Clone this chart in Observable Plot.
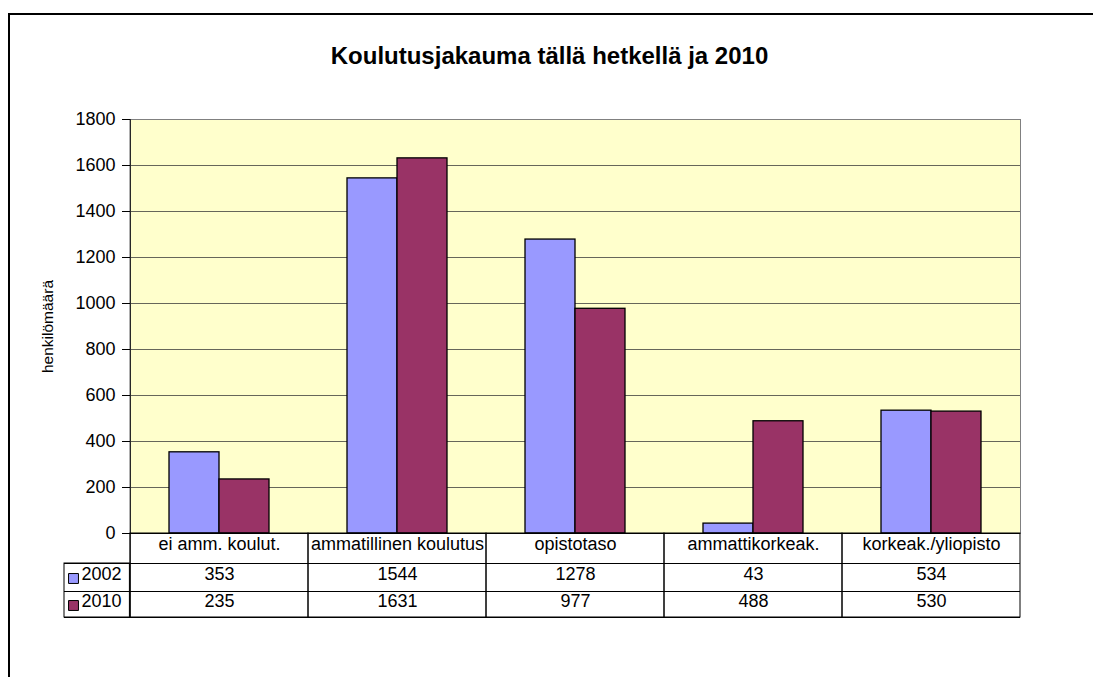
<!DOCTYPE html>
<html>
<head>
<meta charset="utf-8">
<script src="https://cdn.jsdelivr.net/npm/d3@7"></script>
<script src="https://cdn.jsdelivr.net/npm/@observablehq/plot@0.6"></script>
<style>
  html, body { margin: 0; padding: 0; background: #fff; }
  body { font-family: "Liberation Sans", Arial, sans-serif; }
  #frame {
    position: absolute; left: 8px; top: 13px;
    width: 1085px; height: 664px;
    border-left: 2px solid #000; border-top: 2px solid #000;
    overflow: hidden;
  }
  #title {
    width: 1083px; height: 75px; box-sizing: border-box;
    padding-top: 27px; padding-right: 4px;
    text-align: center; font-weight: bold; font-size: 24px; line-height: 27px; color: #000;
  }
  #chart svg { display: block; }
</style>
</head>
<body>
<div id="frame">
  <div id="title">Koulutusjakauma tällä hetkellä ja 2010</div>
  <div id="chart"></div>
</div>
<script>
// ---- data ----
const categories = ["ei amm. koulut.", "ammatillinen koulutus", "opistotaso", "ammattikorkeak.", "korkeak./yliopisto"];
const years = ["2002", "2010"];
const values2002 = [353, 1544, 1278, 43, 534];
const values2010 = [235, 1631, 977, 488, 530];
const yTicks = [0, 200, 400, 600, 800, 1000, 1200, 1400, 1600, 1800];
const yLabel = "henkilömäärä";
const colors = ["#9999FF", "#993366"];

// ---- layout / style ----
const W = 1083, H = 587, ML = 118, MR = 72, MT = 29, MB = 144;
const facetW = (W - ML - MR) / categories.length;
const headerDy = 16;
const rowDy = [46, 73];
const rowLines = [30, 58, 84];
const legendW = 66;
const bg = "#FFFFCC";
const gridColor = "#66665a";
const fs = 18;

const valuesByYear = [values2002, values2010];
const rows = categories.flatMap((c, i) => years.map((y, j) => ({category: c, year: y, value: valuesByYear[j][i]})));

const first = () => categories[0];

const marks = [
  Plot.frame({facet: "super", fill: bg}),
  Plot.ruleY(yTicks.filter(t => t > 0), {stroke: gridColor}),
  Plot.frame({facet: "super", stroke: "#808080"}),
  Plot.barY(rows, {fx: "category", x: "year", y: "value", fill: "year", stroke: "#000", strokeWidth: 1.3, inset: 0}),
  Plot.ruleY([0], {stroke: "#000"}),
  // table: one box per category column
  Plot.barY(categories, {fx: d => d, y1: 0, y2: 0, insetBottom: -rowLines[2], fill: "none", stroke: "#000"}),
  // table row lines (extended into the legend column)
  ...rowLines.map(d => Plot.ruleY([0], {dy: d, insetLeft: -legendW, stroke: "#000"})),
  // legend column box
  Plot.barY([categories[0]], {fx: d => d, y1: 0, y2: 0, insetTop: rowLines[0], insetBottom: -rowLines[2],
    insetLeft: -legendW, insetRight: facetW, fill: "none", stroke: "#000"}),
  // y axis line running down through the table
  Plot.ruleX([categories[0]], {fx: d => d, x: null, dx: -facetW / 2, insetBottom: -rowLines[2], stroke: "#000"}),
  // header labels
  Plot.text(categories, {fx: d => d, text: d => d, frameAnchor: "bottom", dy: headerDy, fontSize: fs, fill: "#000"}),
  // value rows
  ...years.map((yr, j) => Plot.text(rows.filter(r => r.year === yr), {fx: "category", text: d => String(d.value),
    frameAnchor: "bottom", dy: rowDy[j], fontSize: fs, fill: "#000"})),
  // legend keys
  ...years.map((yr, j) => Plot.dot([yr], {fx: first, frameAnchor: "bottom-left", dx: -legendW + 9, dy: rowDy[j] - 1,
    symbol: "square", r: 5.6, fill: colors[j], stroke: "#000", strokeWidth: 1})),
  ...years.map((yr, j) => Plot.text([yr], {fx: first, text: d => d, frameAnchor: "bottom-left", textAnchor: "start",
    dx: -legendW + 17, dy: rowDy[j], fontSize: fs, fill: "#000"})),
  // y axis ticks
  Plot.axisY(yTicks, {anchor: "left", tickSize: 8, tickPadding: 7, fontSize: fs, label: null, tickFormat: d => String(d)}),
  // y axis title (separate so it can be a smaller size)
  Plot.axisY(yTicks, {anchor: "left", tickSize: 0, tickFormat: () => "", fontSize: 15.5, label: yLabel,
    labelArrow: false, labelAnchor: "center", labelOffset: 89})
];

const chart = Plot.plot({
  width: W, height: H,
  marginLeft: ML, marginRight: MR, marginTop: MT, marginBottom: MB,
  style: {fontFamily: "'Liberation Sans', Arial, sans-serif", fontSize: fs + "px", background: "transparent", color: "#000"},
  fx: {domain: categories, padding: 0, axis: null},
  x: {domain: years, paddingInner: 0, paddingOuter: 0.75, axis: null},
  y: {domain: [0, 1800], axis: null},
  color: {domain: years, range: colors},
  marks
});
document.getElementById("chart").appendChild(chart);
</script>
</body>
</html>
